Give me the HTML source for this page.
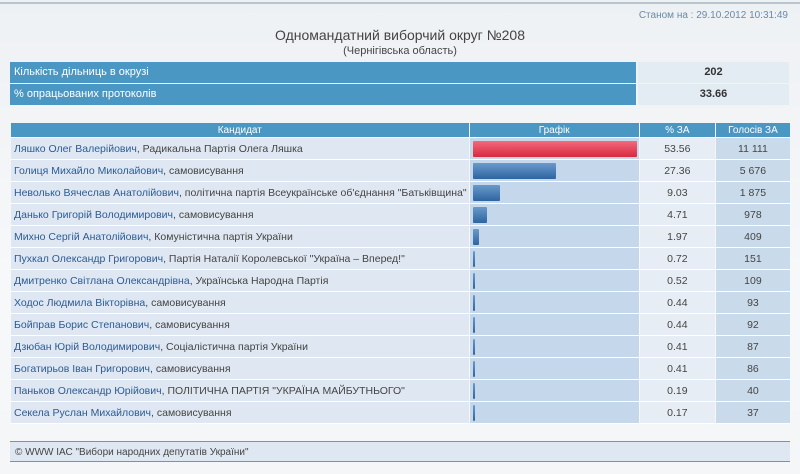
<!DOCTYPE html>
<html><head><meta charset="utf-8"><style>
body{margin:0;width:800px;height:474px;background:linear-gradient(#eef1f4,#f7f8fa 60%,#f4f6f8);font-family:"Liberation Sans",sans-serif;font-size:11px;color:#444;position:relative;overflow:hidden}
.abs{position:absolute}
#topline{left:0;top:2px;width:800px;height:2px;background:#b8c4d0}
#stamp{right:12px;top:10px;color:#6a8aa8;font-size:10px}
#title{left:0;width:800px;top:27px;text-align:center;font-size:14px;color:#444}
#sub{left:0;width:800px;top:45px;text-align:center;font-size:11px;color:#444}
.info{left:10px;width:626px;height:21px;background:#4b97c4;color:#fff;line-height:21px;padding-left:4px;box-sizing:border-box}
.infov{left:638px;width:151px;height:21px;background:#e3ebf3;line-height:21px;text-align:center;font-weight:bold;color:#333}
table{position:absolute;left:10px;top:123px;border-collapse:separate;border-spacing:1px 0;width:781px;table-layout:fixed}
th{background:#4b97c4;color:#fff;font-weight:normal;font-size:10px;height:14px;padding:0;border-bottom:1px solid #fff}
td{height:21px;padding:0;border-bottom:1px solid #fff;font-size:10.5px}
td.c{background:#dfe8f2;padding-left:3px;color:#444;white-space:nowrap;overflow:hidden}
td.c b{font-weight:normal;color:#2a5b98}
td.g{background:#c5d8eb;position:relative}
td.p{background:#e6edf4;text-align:center}
td.v{background:#c9dbeb;text-align:center}
.bar{position:absolute;left:3px;top:3px;height:16px;background:linear-gradient(#6a9acb,#2e64a0);border-radius:1px}
.bar.red{background:linear-gradient(#f26a7c,#d82a40)}
#foot{left:10px;top:441px;width:780px;height:21px;border-top:1px solid #6e97b6;border-bottom:1px solid #6e97b6;background:#dfe8f2;line-height:21px;padding-left:5px;box-sizing:border-box;font-size:10px}
</style></head><body>
<div class="abs" id="topline"></div>
<div class="abs" id="stamp">Станом на : 29.10.2012 10:31:49</div>
<div class="abs" id="title">Одномандатний виборчий округ №208</div>
<div class="abs" id="sub">(Чернігівська область)</div>
<div class="abs info" style="top:62px">Кількість дільниць в окрузі</div>
<div class="abs infov" style="top:62px">202</div>
<div class="abs info" style="top:84px">% опрацьованих протоколів</div>
<div class="abs infov" style="top:84px">33.66</div>
<table>
<colgroup><col style="width:457px"><col style="width:169px"><col style="width:75px"><col style="width:74px"></colgroup>
<thead><tr>
<th>Кандидат</th>
<th>Графік</th>
<th>% ЗА</th>
<th>Голосів ЗА</th>
</tr></thead>
<tbody id="tb"></tbody></table>
<div class="abs" id="foot">© WWW ІАС "Вибори народних депутатів України"</div>
<script>
const names=["Ляшко Олег Валерійович","Голиця Михайло Миколайович","Неволько Вячеслав Анатолійович","Данько Григорій Володимирович","Михно Сергій Анатолійович","Пухкал Олександр Григорович","Дмитренко Світлана Олександрівна","Ходос Людмила Вікторівна","Бойправ Борис Степанович","Дзюбан Юрій Володимирович","Богатирьов Іван Григорович","Паньков Олександр Юрійович","Секела Руслан Михайлович"];
const parties=["Радикальна Партія Олега Ляшка","самовисування","політична партія Всеукраїнське об'єднання \"Батьківщина\"","самовисування","Комуністична партія України","Партія Наталії Королевської \"Україна – Вперед!\"","Українська Народна Партія","самовисування","самовисування","Соціалістична партія України","самовисування","ПОЛІТИЧНА ПАРТІЯ \"УКРАЇНА МАЙБУТНЬОГО\"","самовисування"];
const percents=[53.56,27.36,9.03,4.71,1.97,0.72,0.52,0.44,0.44,0.41,0.41,0.19,0.17];
const votes=["11 111","5 676","1 875","978","409","151","109","93","92","87","86","40","37"];
const maxW=164;
function xScale(p){return Math.max(2,p/Math.max(...percents)*maxW);}
const tb=document.getElementById('tb');
percents.forEach((p,i)=>{
 const tr=document.createElement('tr');
 
 
 tr.innerHTML='<td class="c"><b>'+names[i]+'</b>, '+parties[i]+'</td><td class="g"></td><td class="p">'+p.toFixed(2)+'</td><td class="v">'+votes[i]+'</td>';
 const bar=document.createElement('div');
 bar.className='bar'+(i===0?' red':'');
 bar.style.width=xScale(p)+'px';
 
 
 tr.children[1].appendChild(bar);
 tb.appendChild(tr);
});
</script>
</body></html>
